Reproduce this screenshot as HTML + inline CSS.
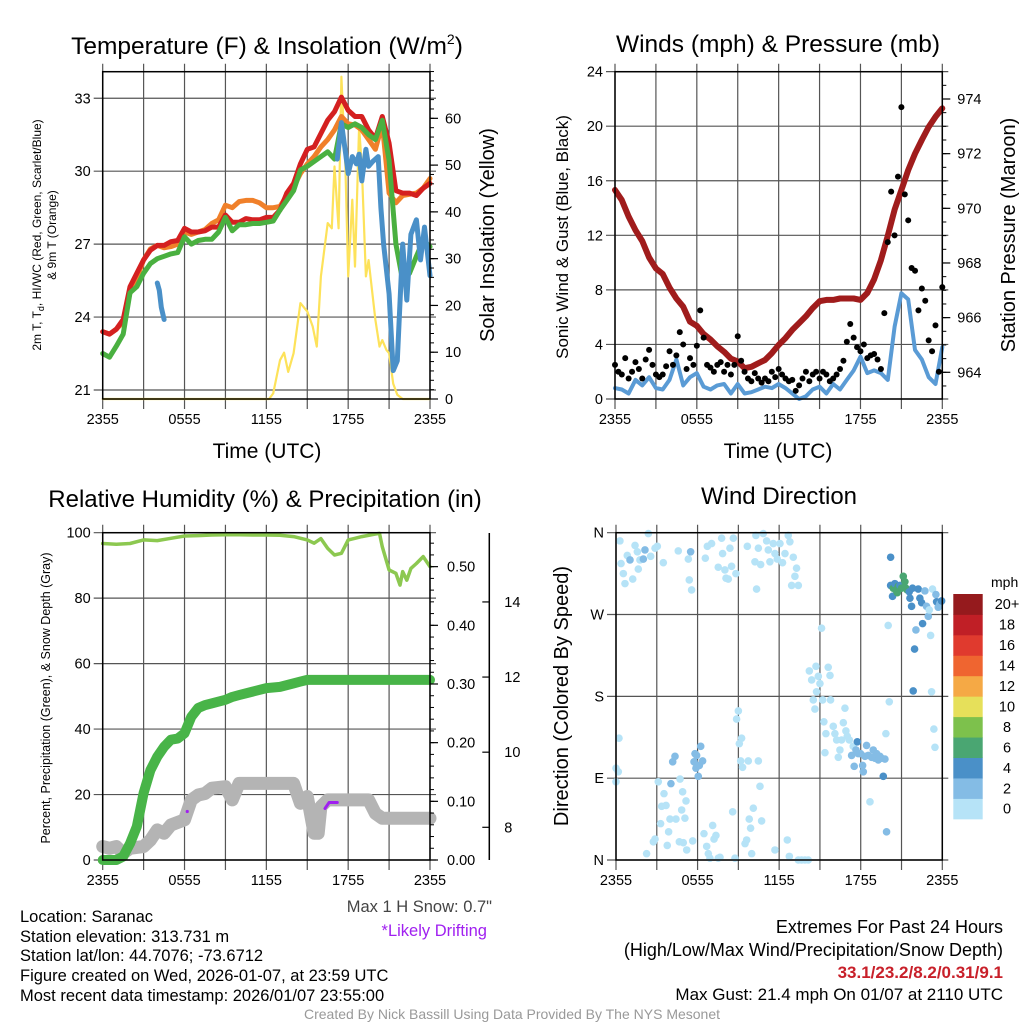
<!DOCTYPE html>
<html><head><meta charset="utf-8">
<style>
html,body{margin:0;padding:0;background:#fff;}
svg{display:block;font-family:"Liberation Sans",Arial,sans-serif;}
</style></head>
<body>
<svg id="chart" width="1024" height="1024" viewBox="0 0 1024 1024" xmlns="http://www.w3.org/2000/svg">
<rect width="1024" height="1024" fill="#fff"/>
<g id="grids"></g>
<g id="series"></g>
<g id="frames"></g>
<g id="labels" fill="#000">
 <text x="267" y="54" font-size="24.5" text-anchor="middle">Temperature (F) &amp; Insolation (W/m<tspan font-size="14" dy="-10">2</tspan><tspan dy="10">)</tspan></text>
 <text x="778" y="52" font-size="24.5" text-anchor="middle">Winds (mph) &amp; Pressure (mb)</text>
 <text x="265" y="507" font-size="24" text-anchor="middle">Relative Humidity (%) &amp; Precipitation (in)</text>
 <text x="779" y="504" font-size="24" text-anchor="middle">Wind Direction</text>
 <text x="267" y="458" font-size="21" text-anchor="middle">Time (UTC)</text>
 <text x="778" y="458" font-size="21" text-anchor="middle">Time (UTC)</text>
 <text transform="translate(41,235) rotate(-90)" font-size="12" text-anchor="middle">2m T, T<tspan font-size="9" dy="3">d</tspan><tspan dy="-3">, HI/WC (Red, Green, Scarlet/Blue)</tspan></text>
 <text transform="translate(56,235) rotate(-90)" font-size="12" text-anchor="middle">&amp; 9m T (Orange)</text>
 <text transform="translate(494,235) rotate(-90)" font-size="20" text-anchor="middle">Solar Insolation (Yellow)</text>
 <text transform="translate(568,237) rotate(-90)" font-size="17" text-anchor="middle">Sonic Wind &amp; Gust (Blue, Black)</text>
 <text transform="translate(1015,235) rotate(-90)" font-size="20" text-anchor="middle">Station Pressure (Maroon)</text>
 <text transform="translate(50,698) rotate(-90)" font-size="12.5" text-anchor="middle">Percent, Precipitation (Green), &amp; Snow Depth (Gray)</text>
 <text transform="translate(568,696) rotate(-90)" font-size="20" text-anchor="middle">Direction (Colored By Speed)</text>
 <text x="991" y="587" font-size="14">mph</text>
 <text x="492" y="912" font-size="16.5" text-anchor="end" fill="#444">Max 1 H Snow: 0.7"</text>
 <text x="487" y="936" font-size="16.5" text-anchor="end" fill="#a020f0">*Likely Drifting</text>
 <text x="20" y="922" font-size="16.5">Location: Saranac</text>
 <text x="20" y="942" font-size="16.5">Station elevation: 313.731 m</text>
 <text x="20" y="961" font-size="16.5">Station lat/lon: 44.7076; -73.6712</text>
 <text x="20" y="981" font-size="16.5">Figure created on Wed, 2026-01-07, at 23:59 UTC</text>
 <text x="20" y="1001" font-size="16.5">Most recent data timestamp: 2026/01/07 23:55:00</text>
 <text x="1003" y="933" font-size="18" text-anchor="end">Extremes For Past 24 Hours</text>
 <text x="1003" y="956" font-size="18" text-anchor="end">(High/Low/Max Wind/Precipitation/Snow Depth)</text>
 <text x="1003" y="978" font-size="17" font-weight="bold" text-anchor="end" fill="#c8202a">33.1/23.2/8.2/0.31/9.1</text>
 <text x="1003" y="1000" font-size="17" text-anchor="end">Max Gust: 21.4 mph On 01/07 at 2110 UTC</text>
 <text x="512" y="1019" font-size="14" text-anchor="middle" fill="#999">Created By Nick Bassill Using Data Provided By The NYS Mesonet</text>
</g>
</svg>
<script>
// ---------- DATA ----------
const halfHours = [0,0.5,1,1.5,2,2.5,3,3.5,4,4.5,5,5.5,6,6.5,7,7.5,8,8.5,9,9.5,10,10.5,11,11.5,12,12.5,13,13.5,14,14.5,15,15.5,16,16.5,17,17.5,18,18.5,19,19.5,20,20.5,21,21.5,22,22.5,23,23.5,24];
const tickLabels = ["2355","0555","1155","1755","2355"];
const tempTicks = [21,24,27,30,33];
const solarTicks = [0,10,20,30,40,50,60];
const temp2m = [23.4,23.3,23.5,23.9,25.25,25.8,26.35,26.75,26.95,26.95,27.1,27.15,27.65,27.5,27.5,27.55,27.7,27.7,28.2,27.9,27.9,28.05,28.0,28.0,28.1,28.1,28.4,29.1,29.5,30.3,30.9,31.0,31.55,32.1,32.45,33.05,32.5,32.25,32.25,31.7,31.35,32.25,31.15,29.2,29.1,29.1,29.0,29.3,29.5];
const temp9m = [23.4,23.3,23.5,23.8,25.0,25.6,26.35,26.8,26.95,26.85,26.9,27.0,27.5,27.4,27.5,27.6,27.85,28.0,28.6,28.5,28.75,28.8,28.8,28.7,28.5,28.5,28.55,29.0,29.35,29.9,30.3,30.6,31.0,31.3,31.7,32.25,31.95,31.9,31.7,31.3,30.9,31.95,29.1,28.7,29.0,29.05,29.1,29.3,29.7];
const tempGreen = [22.5,22.35,22.8,23.3,25.0,25.25,25.8,26.2,26.4,26.5,26.6,26.65,27.3,27.0,27.15,27.2,27.2,27.5,28.1,27.55,27.8,27.8,27.85,27.85,27.9,27.95,28.4,28.8,29.2,30.05,30.2,30.4,30.6,30.8,30.5,31.95,31.8,31.95,31.8,31.5,31.3,32.1,30.45,27.0,25.5,25.8,26.5,27.15,26.9];
const blueHours = [4.0,4.15,4.3,4.5,null,17.2,17.5,17.8,18.0,18.3,18.6,18.8,19.0,19.3,19.5,19.8,20.0,20.2,20.4,20.6,21.0,21.3,21.6,22.0,22.3,22.6,23.0,23.3,23.6,24.0];
const blueTemp = [25.4,25.1,24.4,23.9,null,30.5,32.0,30.8,29.9,30.6,30.3,30.7,29.6,30.9,30.2,30.4,30.5,30.6,28.5,27.0,24.95,21.8,22.2,27.0,24.7,27.4,28.0,26.35,27.7,25.7];
const solarHours = [0,12.2,12.5,13,13.3,13.6,14,14.5,15,15.4,15.7,16,16.5,16.8,17,17.3,17.5,17.8,18,18.3,18.5,18.8,19,19.3,19.5,20,20.3,20.5,20.8,21,21.3,21.6,22,24];
const solarValues = [0,0,1.2,8.3,9.9,5.8,9.8,20.5,18.7,15.5,11.2,26.2,37.6,36.5,49.7,36.5,68.9,49.7,26.2,42.6,28.3,58.2,49.7,26.2,29.7,16.9,11.2,12.6,10.5,9.8,3.3,0.9,0,0];

const windTicks = [0,4,8,12,16,20,24];
const pressTicks = [964,966,968,970,972,974];
const pressure = [970.67,970.3,969.7,969.2,968.8,968.2,967.8,967.6,967.1,966.7,966.4,965.85,965.7,965.4,965.2,964.95,964.75,964.5,964.4,964.15,964.2,964.33,964.45,964.7,965.0,965.25,965.55,965.8,966.05,966.35,966.6,966.65,966.65,966.7,966.7,966.7,966.65,966.9,967.4,968.1,969.0,969.95,970.67,971.4,972.0,972.5,972.98,973.35,973.66];
const windSpeed = [0.8,0.7,0.4,1.4,1.0,1.6,0.8,0.7,1.4,2.9,1.0,1.6,1.9,0.9,0.7,1.0,1.1,0.4,1.1,0.4,0.5,0.7,0.9,0.8,1.1,0.8,0.4,0,0.2,0.7,0.9,0.4,1.1,0.7,1.4,2.1,3.1,1.9,2.1,1.9,1.4,5.3,7.75,7.3,3.6,2.9,1.6,1.1,3.8];
const gusts = [2.5,2.0,1.8,3.0, 1.5,2.0,2.7,2.2, 1.5,2.9,3.6,2.5, 1.8,1.6,1.8,2.4, 3.5,2.5,3.2,4.9, 4.0,2.2,3.0,2.5, 3.9,6.5,4.5,2.5, 2.3,2.0,2.5,2.7, 2.0,2.5,1.8,2.5, 4.6,2.8,2.0,1.5, 1.3,1.9,1.5,1.2, 1.5,1.3,2.0,1.6, 2.2,1.8,1.5,1.3, 1.4,0.6,1.0,1.5, 2.0,1.3,1.8,2.0, 1.5,2.0,1.8,1.3, 1.5,1.8,2.2,2.8, 4.2,5.5,4.5,3.8, 3.5,4.0,3.0,3.2, 3.3,2.9,2.2,6.3, 11.5,15.2,12.0,16.3, 21.4,15.0,13.1,9.6, 9.4,6.5,8.1,7.2, 4.3,3.5,5.4,2.0, 8.2];

const rhTicks = [0,20,40,60,80,100];
const precipTicks = [0,0.1,0.2,0.3,0.4,0.5];
const snowTicks = [8,10,12,14];
const rhHours = [0,1,2,3,4,5,6,7,8,9,10,11,12,13,14,15,15.5,16,16.5,17,17.5,18,18.5,19,20,20.3,20.5,21,21.5,21.8,22,22.3,22.6,23,23.5,24];
const rhValues = [96.7,96.5,96.7,97.8,97.6,98.3,99,99.1,99.3,99.4,99.4,99.3,99.3,99.2,98.8,97.8,96.8,98.2,95.2,93.2,93.7,97.8,98.3,98.8,99.6,99.8,95.7,88.6,87.6,84.0,88.1,85.5,89.1,90.6,92.7,89.6];
const precipHours = [0,1,1.5,2,2.5,3,3.5,4,4.5,5,5.5,6,6.5,7,7.5,8,9,9.5,10,11,12,13,14,14.5,15,24];
const precipValues = [0,0,0.006,0.028,0.057,0.114,0.153,0.176,0.193,0.205,0.207,0.216,0.244,0.259,0.264,0.267,0.273,0.278,0.281,0.287,0.293,0.295,0.301,0.304,0.307,0.307];
const snowHours = [0,0.5,1,1.5,2,3,3.5,4,4.5,5,6,6.5,7,7.5,8,9,9.5,10,11,12,13,14,14.5,15,15.5,15.8,16,16.5,17,18,19,19.5,20,20.5,21,24];
const snowValues = [7.49,7.44,7.49,7.31,7.44,7.49,7.66,7.93,7.84,8.06,8.2,8.73,8.86,8.9,9.04,9.08,8.73,9.17,9.17,9.17,9.17,9.17,8.64,8.82,7.84,7.84,8.55,8.73,8.73,8.73,8.73,8.73,8.37,8.24,8.24,8.24];
const driftHours = [16.3,16.6,17.2];
const driftValues = [8.5,8.66,8.66];
const driftDotHours = [6.2];
const driftDotValues = [8.42];

const dirLabels = ["N","E","S","W","N"];
const dirTicks = [0,90,180,270,360];
const dirHours = [0.29,0.37,0.54,0.66,0.83,1.03,1.23,1.40,1.57,1.64,1.76,2.01,2.13,2.38,2.55,2.87,3.04,3.48,4.58,5.32,5.49,5.39,5.56,6.57,6.72,7.03,7.52,7.77,7.84,8.01,8.09,8.26,8.38,8.50,8.63,8.82,9.66,10.22,10.29,10.34,10.47,10.64,10.83,11.08,11.20,11.32,11.57,11.69,11.86,12.06,12.25,12.43,12.67,12.79,13.04,13.16,13.28,12.92,13.41,
 0,0,0.17,0.22,2.25,2.75,2.87,3.11,3.28,3.36,3.53,3.68,3.77,3.87,3.97,4.04,4.17,4.34,4.41,4.66,4.71,4.83,4.90,4.95,5.07,5.15,5.20,5.64,5.74,5.81,5.88,5.93,6.05,6.13,6.23,6.37,6.47,6.67,6.79,6.91,7.11,7.21,7.35,7.52,7.65,8.58,8.75,8.87,9.00,9.07,9.17,9.24,9.31,9.49,9.61,9.73,9.80,9.90,9.98,10.10,10.47,10.59,10.71,11.69,12.60,12.75,13.41,13.65,13.90,14.14,
 14.22,14.39,14.51,14.63,14.71,14.75,14.88,15.00,15.12,15.20,15.29,15.37,15.44,15.61,15.74,15.78,15.98,16.10,16.23,16.35,16.47,16.59,16.72,16.84,16.91,17.01,17.16,17.33,17.45,17.52,17.65,17.75,17.82,17.99,18.14,18.19,18.31,18.43,18.55,18.68,18.80,18.92,19.04,19.17,19.29,19.41,19.53,19.66,19.78,19.85,19.90,20.02,20.10,
 20.20,20.20,20.34,20.39,20.51,20.59,20.69,20.76,20.88,21.00,21.13,21.25,21.32,21.42,21.57,21.62,21.74,21.81,21.86,21.96,22.06,22.23,22.35,22.48,22.55,22.72,22.84,22.97,23.04,23.14,23.21,23.28,23.38,23.46,23.53,23.58,23.70,23.82,23.95];
const dirValues = [351,326,315,304,335,330,309,346,339,320,330,331,341,359,334,343,345,327,340,331,339,308,297,332,345,348,322,354,337,319,310,309,343,323,354,315,345,328,357,298,343,325,359,351,341,328,348,337,331,348,327,337,357,350,333,312,321,302,302,
 86,101,97,134,7,20,23,86,40,59,73,60,16,31,45,84,108,114,45,20,89,55,75,19,46,65,11,21,108,117,101,115,92,104,125,109,29,15,7,2,38,23,27,2,3,53,2,155,164,128,109,134,102,18,22,109,45,35,7,57,109,81,43,11,22,4,0,0,0,0,
 208,198,176,166,213,185,202,194,255,176,152,118,139,212,203,176,147,139,132,113,121,132,151,167,142,136,132,115,125,103,121,130,117,117,104,97,114,126,115,64,113,121,112,117,110,114,112,92,111,139,31,258,174,
 333,302,290,299,304,297,294,301,302,299,312,306,299,297,295,288,279,299,186,232,253,298,288,283,260,296,279,268,275,247,185,298,144,124,292,284,278,282,285];
const dirSpeeds = [1,1,1,1,1,3,1,1,1,1,1,3,3,1,1,1,1,1,1,1,3,1,1,1,1,1,1,1,1,1,1,1,1,1,1,1,1,1,1,1,1,1,1,1,1,1,1,1,1,1,1,1,1,1,1,1,1,1,1,
 1,1,1,1,1,1,1,1,1,1,1,1,1,1,1,3,3,3,1,1,1,1,1,1,1,1,1,1,3,3,3,3,3,3,3,3,1,1,1,1,1,1,1,1,1,1,1,1,1,1,1,1,1,1,1,1,1,1,1,1,1,1,1,1,1,1,1,1,1,1,
 1,1,1,1,1,1,1,1,1,1,1,1,1,1,1,1,1,1,1,1,1,1,1,1,1,1,1,3,1,3,3,5,3,3,3,3,3,3,3,1,3,3,3,3,3,3,3,5,3,1,3,1,1,
 5,5,5,7,5,7,7,7,5,7,7,7,7,7,5,5,5,5,5,5,3,5,5,5,5,3,3,3,1,1,1,1,1,1,3,5,3,3,5];
const legendLabels = ["0","2","4","6","8","10","12","14","16","18","20+"];
const legendColors = ["#b6e3f7","#84bce5","#4a90c8","#4aa672","#7dc14c","#e6e05a","#f5a945","#ef6530","#e03a2e","#c01f26","#951a1d"];

// ---------- DRAWING ----------
const NS = "http://www.w3.org/2000/svg";
const gGrid = document.getElementById('grids');
const gSer = document.getElementById('series');
const gFr = document.getElementById('frames');
function mk(tag, attrs, parent){ const e=document.createElementNS(NS,tag); for(const k in attrs) e.setAttribute(k,attrs[k]); parent.appendChild(e); return e; }
function txt(s, attrs, parent){ const e=mk('text',attrs,parent); e.textContent=s; return e; }

const panels = {
  temp:{x0:102.7,x1:430,y0:71.7,y1:399},
  wind:{x0:615,x1:942.3,y0:71.7,y1:399},
  rh:{x0:102.7,x1:430,y0:532.7,y1:860},
  dir:{x0:616,x1:942.3,y0:532.7,y1:860}
};
function xScale(p){ return h => p.x0 + h/24*(p.x1-p.x0); }
const yTemp = v => 390 - (v-21)*24.31;
const ySolar = v => 399 - v*4.678;
const yWind = v => 399 - v*13.64;
const yPress = v => 372.3 - (v-964)*27.33;
const yRH = v => 860 - v*3.273;
const yPrecip = v => 860 - v*586.7;
const ySnow = v => 827.3 - (v-8)*37.56;
const yDir = v => 860 - v*327.3/360;

function drawFrame(p, yTicks, yf, yLabFmt, name){
  const xs = xScale(p);
  for(let h=0; h<=24; h+=3){
    const x = xs(h);
    const l = mk('line',{x1:x,y1:p.y0-8,x2:x,y2:p.y1+10,stroke:'#555','stroke-width':1.2},gGrid);
    
    
  }
  yTicks.forEach((v,i)=>{
    const y = yf(v);
    const l = mk('line',{x1:p.x0-9,y1:y,x2:p.x1+6,y2:y,stroke:'#555','stroke-width':1.2},gGrid);
    
    
    const t = txt(yLabFmt(v,i),{x:p.x0-12,y:y+5,'font-size':14.5,'text-anchor':'end'},gFr);
    
    
  });
  tickLabels.forEach((s,i)=>{
    const t = txt(s,{x:xs(i*6),y:p.y1+25,'font-size':14.5,'text-anchor':'middle'},gFr);
    
    
  });
  const r = mk('rect',{x:p.x0,y:p.y0,width:p.x1-p.x0,height:p.y1-p.y0,fill:'none',stroke:'#000','stroke-width':1.5},gFr);
  
  
}
function rightAxis(x, ticks, yf, fmt, name, minorStep, lo, hi, labelX){
  ticks.forEach(v=>{
    const y=yf(v);
    mk('line',{x1:x,y1:y,x2:x+8,y2:y,stroke:'#000','stroke-width':1.2},gFr);
    const t = txt(fmt(v),{x:labelX,y:y+5,'font-size':14.5},gFr);
    
    
  });
  if(minorStep){ for(let v=lo; v<=hi+1e-9; v+=minorStep){ const y=yf(v); mk('line',{x1:x,y1:y,x2:x+4,y2:y,stroke:'#000','stroke-width':1},gFr);} }
}
function linePath(hours, vals, xs, yf){
  let d=''; let pen=false;
  for(let i=0;i<hours.length;i++){
    if(hours[i]===null||vals[i]===null){pen=false;continue;}
    d += (pen?'L':'M') + xs(hours[i]).toFixed(1)+','+yf(vals[i]).toFixed(1);
    pen=true;
  }
  return d;
}
function series(hours, vals, xs, yf, color, w, name){
  const p = mk('path',{d:linePath(hours,vals,xs,yf),fill:'none',stroke:color,'stroke-width':w,'stroke-linejoin':'round','stroke-linecap':'round'},gSer);
  
  
  return p;
}

// Panel 1
(function(){
  const p=panels.temp, xs=xScale(p);
  drawFrame(p, tempTicks, yTemp, v=>String(v), 'temp');
  rightAxis(p.x1, solarTicks, ySolar, v=>String(v), 'solar-axis', 2, 0, 70, p.x1+15);
  series(solarHours, solarValues, xs, ySolar, '#fde25a', 2.2, 'solar-insolation-line');
  series(halfHours, temp9m, xs, yTemp, '#f0802a', 5, 'temp-9m-line');
  series(halfHours, temp2m, xs, yTemp, '#d42020', 5, 'temp-2m-line');
  series(halfHours, tempGreen, xs, yTemp, '#4ab040', 5, 'dewpoint-green-line');
  series(blueHours, blueTemp, xs, yTemp, '#4a90c8', 5, 'wind-chill-blue-line');
})();

// Panel 2
(function(){
  const p=panels.wind, xs=xScale(p);
  drawFrame(p, windTicks, yWind, v=>String(v), 'wind');
  rightAxis(p.x1, pressTicks, yPress, v=>String(v), 'pressure-axis', 0.5, 963.5, 974.5, p.x1+15);
  series(halfHours, windSpeed, xs, yWind, '#5a9bd5', 4, 'sonic-wind-line');
  series(halfHours, pressure, xs, yPress, '#a01c1c', 6, 'pressure-line');
  gusts.forEach((g,i)=>{
    const c = mk('circle',{cx:xs(i*0.25),cy:yWind(g),r:3,fill:'#000'},gSer);
    
    
  });
})();

// Panel 3
(function(){
  const p=panels.rh, xs=xScale(p);
  drawFrame(p, rhTicks, yRH, v=>String(v), 'rh');
  rightAxis(p.x1, precipTicks, yPrecip, v=>v.toFixed(2), 'precip-axis', 0.02, 0, 0.54, p.x1+17);
  const sx=489.3;
  const ax = mk('line',{x1:sx,y1:533,x2:sx,y2:860,stroke:'#000','stroke-width':1.5},gFr);
  
  
  snowTicks.forEach(v=>{
    const y=ySnow(v);
    mk('line',{x1:sx-7,y1:y,x2:sx,y2:y,stroke:'#000','stroke-width':1.2},gFr);
    const t=txt(String(v),{x:sx+15,y:y+5,'font-size':14.5},gFr);
    
    
  });
  series(snowHours, snowValues, xs, ySnow, '#b4b4b4', 13, 'snow-depth-line');
  series(precipHours, precipValues, xs, yPrecip, '#48b448', 10, 'precipitation-line');
  series(rhHours, rhValues, xs, yRH, '#8cc850', 3.5, 'relative-humidity-line');
  series(driftHours, driftValues, xs, ySnow, '#a020f0', 3, 'drifting-line');
  driftDotHours.forEach((h,i)=>{
    const c=mk('circle',{cx:xs(h),cy:ySnow(driftDotValues[i]),r:1.6,fill:'#a020f0'},gSer);
    
    
  });
})();

// Panel 4
(function(){
  const p=panels.dir, xs=xScale(p);
  drawFrame(p, dirTicks, yDir, (v,i)=>dirLabels[i], 'dir');
  const colorFor = s => legendColors[Math.min(10, Math.floor(s/2))];
  dirHours.forEach((h,i)=>{
    const c=mk('circle',{cx:xs(h),cy:yDir(dirValues[i]),r:3.8,fill:colorFor(dirSpeeds[i])},gSer);
    
    
  });
  const lx=953.3, top=594, bh=20.45;
  legendColors.forEach((col,i)=>{
    const y = top + (10-i)*bh;
    const r=mk('rect',{x:lx,y:y,width:29.4,height:bh+0.4,fill:col},gFr);
    
    
    const t=txt(legendLabels[i],{x:1007,y:y+bh/2+5,'font-size':14.5,'text-anchor':'middle'},gFr);
    
    
  });
})();
</script>
</body></html>
